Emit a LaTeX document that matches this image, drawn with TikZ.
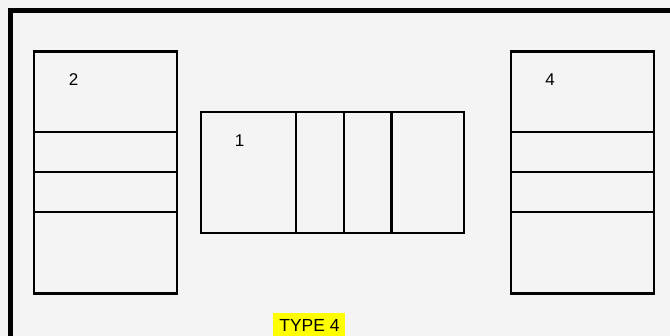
\documentclass[tikz,border=0pt]{standalone}
\usepackage{fontspec}
\setmainfont{Liberation Sans}
\definecolor{bg}{HTML}{F4F4F4}
\definecolor{hl}{HTML}{FFFF00}
\begin{document}
\begin{tikzpicture}[x=1pt,y=-1pt,
  box/.style={draw=black,line width=2.5pt,inner sep=0pt,outer sep=0pt,anchor=north west},
  lbl/.style={font=\fontsize{17}{19}\selectfont,inner sep=0pt},
  divider/.style={draw=black,line width=2.5pt}]
\useasboundingbox (0,0) rectangle (670,336);
\fill[bg] (0,0) rectangle (670,336);
\begin{scope}
\clip (0,0) rectangle (670,336);
\draw[line width=5pt] (10.5,400) -- (10.5,11) -- (700,11);
\end{scope}
% left box
\node[box,minimum width=143.4pt,minimum height=242pt] (L) at (33.8,51.3) {};
\draw[divider] (L.west |- 0,132.2) -- (L.east |- 0,132.2);
\draw[divider] (L.west |- 0,172.2) -- (L.east |- 0,172.2);
\draw[divider] (L.west |- 0,212.2) -- (L.east |- 0,212.2);
\node[lbl] (l2) at (73.5,80) {2};
% right box
\node[box,minimum width=143.4pt,minimum height=242pt] (R) at (510.8,51.3) {};
\draw[divider] (R.west |- 0,132.2) -- (R.east |- 0,132.2);
\draw[divider] (R.west |- 0,172.2) -- (R.east |- 0,172.2);
\draw[divider] (R.west |- 0,212.2) -- (R.east |- 0,212.2);
\node[lbl] (l4) at (550,80) {4};
% center box
\node[box,minimum width=263pt,minimum height=121pt] (C) at (200.8,112) {};
\draw[divider] (296,0 |- C.north) -- (296,0 |- C.south);
\draw[divider] (344,0 |- C.north) -- (344,0 |- C.south);
\draw[divider] (391.5,0 |- C.north) -- (391.5,0 |- C.south);
\node[lbl] (l1) at (239.5,140.5) {1};
% type label
\fill[hl] (272.5,313) rectangle (345,336);
\node[font=\fontsize{17.5}{19}\selectfont,inner sep=0pt] (type) at (309.5,325.5) {TYPE 4};
\end{tikzpicture}
\end{document}
